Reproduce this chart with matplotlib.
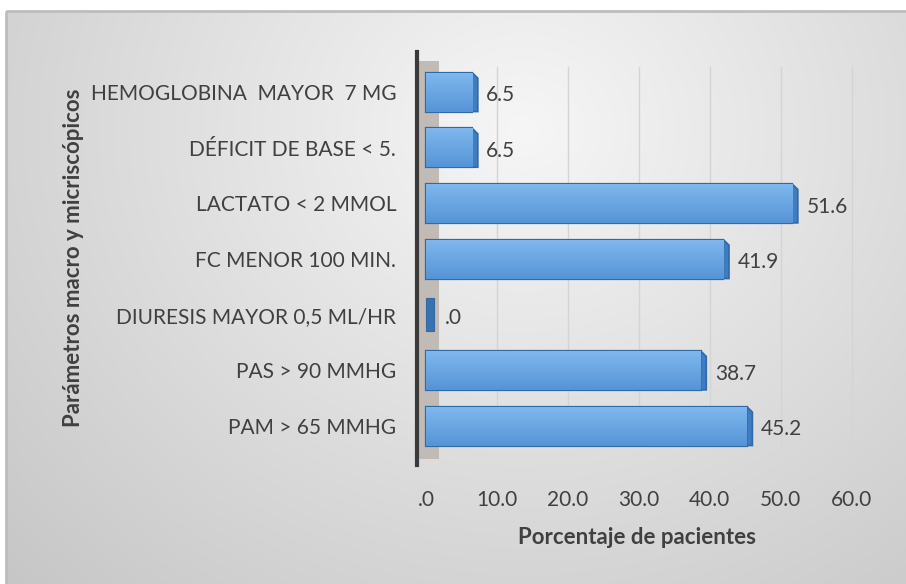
import numpy as np
import matplotlib
matplotlib.use("Agg")
import matplotlib.pyplot as plt
from matplotlib.patches import Rectangle, Polygon

# Data (bottom to top)
categories = [
    "PAM > 65 MMHG",
    "PAS > 90 MMHG",
    "DIURESIS MAYOR 0,5 ML/HR",
    "FC MENOR 100 MIN.",
    "LACTATO < 2 MMOL",
    "DÉFICIT DE BASE < 5.",
    "HEMOGLOBINA  MAYOR  7 MG",
]
porcentajes = [45.2, 38.7, 0.0, 41.9, 51.6, 6.5, 6.5]
x_ticks = [0, 10, 20, 30, 40, 50, 60]

FONT = ["Lato", "DejaVu Sans"]
TXT = "#404040"


def fmt(v):
    s = f"{v:.1f}"
    return s[1:] if s.startswith("0") else s


W, H = 906, 584
fig = plt.figure(figsize=(W / 100, H / 100), dpi=100)
fig.patch.set_facecolor("white")

# Background panel with soft gradient
bg = fig.add_axes([0, 0, 1, 1], zorder=0)
bg.set_xlim(0, W)
bg.set_ylim(H, 0)
bg.axis("off")
yy, xx = np.mgrid[0:H, 0:W]
d = np.sqrt(((xx - 520) / 620.0) ** 2 + ((yy - 120) / 560.0) ** 2)
shade = np.clip(0.965 - 0.16 * d, 0.78, 0.97)
img = np.dstack([shade, shade, shade])
bg.imshow(img, extent=(6, W, H, 11), aspect="auto", zorder=0)
bg.add_patch(Rectangle((6, 11), W, H, fill=False, ec="#bdbdbd", lw=2, zorder=1))

# Plot area
ax = fig.add_axes([417 / W, 1 - 465 / H, 439 / W, 413 / H], zorder=2)
ax.patch.set_alpha(0)
x0 = -1.27
ax.set_xlim(x0, 60.6)
ax.set_ylim(-0.7, 6.72)

y = np.arange(len(categories))
h = 0.7

# gridlines
for t in x_ticks[1:]:
    ax.plot([t, t], [-0.3, 6.45], color="#d4d4d4", lw=1, zorder=1)

# side wall next to the axis
ax.add_patch(Rectangle((x0, -0.6), 1.27 + 1.9, 7.15, color="#c2bbb5", lw=0, zorder=1.5))

grad = np.linspace(0, 1, 64).reshape(-1, 1)
top_c = np.array([0.50, 0.72, 0.93])
bot_c = np.array([0.33, 0.58, 0.84])
gimg = top_c * (1 - grad[..., None]) + bot_c * grad[..., None]
gimg = gimg.reshape(64, 1, 3)

for yi, v in zip(y, porcentajes):
    yb = yi - h / 2
    if v > 0:
        b = ax.barh(yi, v, height=h, left=0, color="#5b9bd5",
                    edgecolor="#2f69a6", linewidth=1.6, zorder=3)[0]
        im = ax.imshow(gimg, extent=(0, v, yb, yb + h), aspect="auto",
                       origin="upper", zorder=3.2)
        im.set_clip_path(b)
        # extruded right face
        dx = 0.8
        face = Polygon([(v, yb + h), (v + dx, yb + h - 0.1), (v + dx, yb), (v, yb)],
                       closed=True, fc="#3f7cc0", ec="#2f69a6", lw=1.2, zorder=3.1)
        ax.add_patch(face)
        xt = v + 2.0
    else:
        ax.add_patch(Rectangle((0, yi - 0.3), 1.1, 0.6, fc="#3a72b0",
                               ec="#2f69a6", lw=0.8, zorder=3.3))
        xt = 2.6
    ax.text(xt, yi - 0.06, fmt(v), ha="left", va="center", fontsize=15,
            color=TXT, family=FONT, zorder=4)

# axis styling
for s in ["top", "right", "bottom"]:
    ax.spines[s].set_visible(False)
ax.spines["left"].set_color("#3a3a3a")
ax.spines["left"].set_linewidth(3)
ax.set_yticks(y)
ax.set_yticklabels(categories, fontsize=15, color=TXT, family=FONT)
ax.tick_params(axis="y", length=0, pad=15)
ax.set_xticks(x_ticks)
ax.set_xticklabels([fmt(t) for t in x_ticks], fontsize=15, color=TXT, family=FONT)
ax.tick_params(axis="x", length=0, pad=18)

ax.set_xlabel("Porcentaje de pacientes", fontsize=16, fontweight="bold",
              color=TXT, family=FONT, labelpad=12)
fig.text(74 / W, 1 - 258 / H, "Parámetros macro y micriscópicos", rotation=90,
         ha="center", va="center", fontsize=16, fontweight="bold", color=TXT,
         family=FONT)

fig.savefig("out.png", dpi=100)
